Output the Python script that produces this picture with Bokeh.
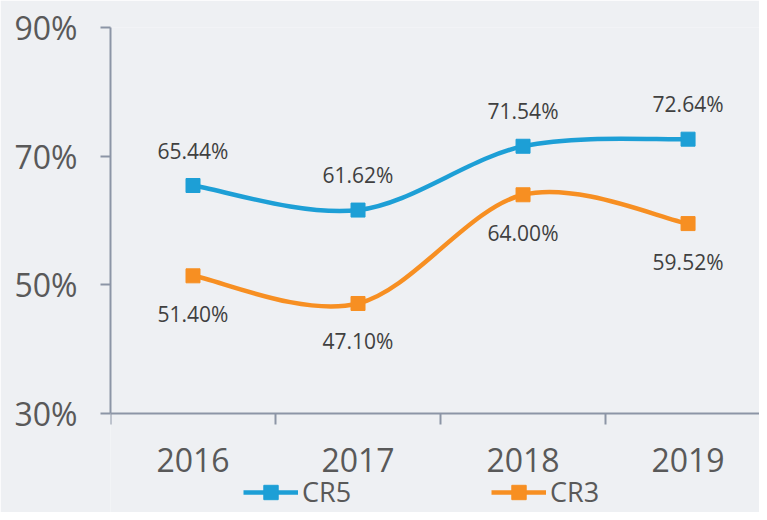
from bokeh.plotting import figure
from bokeh.models import (Range1d, FixedTicker, PrintfTickFormatter, Legend, LegendItem,
                          ColumnDataSource)
from bokeh.core.properties import value
from bokeh.embed import file_html
from bokeh.resources import INLINE

years = ["2016", "2017", "2018", "2019"]
cr5 = [65.44, 61.62, 71.54, 72.64]
cr3 = [51.40, 47.10, 64.00, 59.52]
y_ticks = [30, 50, 70, 90]

BLUE = "#1d9fd6"
ORANGE = "#f78f22"
AXIS = "#8c95a6"
TXT = "#595959"
LBL = "#404040"
BG = "#eef0f3"
FONT = "Open Sans"

xs = list(range(len(years)))
y_lo, y_hi = y_ticks[0], y_ticks[-1]

# frame: top at 27px, value 30 at 413px, figure bottom at 512px
px_per_unit = (413 - 27) / (y_hi - y_lo)
y_start = y_lo - (512 - 413) / px_per_unit

p = figure(width=759, height=512, output_backend="svg", toolbar_location=None,
           x_range=Range1d(-0.5, 3.433), y_range=Range1d(y_start, y_hi),
           min_border_left=110, min_border_right=0, min_border_top=27,
           min_border_bottom=0)
p.background_fill_color = BG
p.border_fill_color = BG
p.outline_line_color = None
p.grid.visible = False

# x axis drawn at the 30% level
xa = p.xaxis[0]
xa.fixed_location = y_lo
xa.ticker = FixedTicker(ticks=xs, minor_ticks=[i - 0.5 for i in xs])
xa.major_label_overrides = {i: y for i, y in zip(xs, years)}
xa.major_tick_out = 0
xa.major_tick_in = 0
xa.minor_tick_out = 11
xa.minor_tick_in = 0
xa.minor_tick_line_color = AXIS
xa.minor_tick_line_width = 2
xa.axis_line_color = AXIS
xa.axis_line_width = 2
xa.major_label_standoff = 23
xa.major_label_text_font = FONT
xa.major_label_text_font_size = "32px"
xa.major_label_text_color = TXT

# y axis
ya = p.yaxis[0]
ya.bounds = (y_lo, y_hi)
ya.ticker = FixedTicker(ticks=y_ticks, minor_ticks=[])
ya.formatter = PrintfTickFormatter(format="%d%%")
ya.major_tick_out = 10
ya.major_tick_in = 0
ya.major_tick_line_color = AXIS
ya.major_tick_line_width = 2
ya.minor_tick_line_color = None
ya.axis_line_color = AXIS
ya.axis_line_width = 2
ya.major_label_standoff = 23
ya.major_label_text_font = FONT
ya.major_label_text_font_size = "32px"
ya.major_label_text_color = TXT


def bezier_source(vals):
    n = len(vals)
    pts = list(zip(xs, vals))
    x0, y0, x1, y1, cx0, cy0, cx1, cy1 = ([] for _ in range(8))
    for i in range(n - 1):
        p0 = pts[i - 1] if i > 0 else pts[i]
        p1 = pts[i]
        p2 = pts[i + 1]
        p3 = pts[i + 2] if i + 2 < n else pts[i + 1]
        x0.append(p1[0]); y0.append(p1[1])
        x1.append(p2[0]); y1.append(p2[1])
        cx0.append(p1[0] + (p2[0] - p0[0]) / 6); cy0.append(p1[1] + (p2[1] - p0[1]) / 6)
        cx1.append(p2[0] - (p3[0] - p1[0]) / 6); cy1.append(p2[1] - (p3[1] - p1[1]) / 6)
    return ColumnDataSource(dict(x0=x0, y0=y0, x1=x1, y1=y1, cx0=cx0, cy0=cy0, cx1=cx1, cy1=cy1))


items = []
for name, vals, color, off in [("CR5", cr5, BLUE, -35), ("CR3", cr3, ORANGE, 38)]:
    b = p.bezier(x0="x0", y0="y0", x1="x1", y1="y1", cx0="cx0", cy0="cy0", cx1="cx1", cy1="cy1",
                 source=bezier_source(vals), line_color=color, line_width=4.5)
    s = p.scatter(xs, vals, marker="square", size=14, fill_color=color, line_color=color)
    p.text(xs, vals, text=[f"{v:.2f}%" for v in vals], y_offset=off,
           text_align="center", text_baseline="middle", text_font=value(FONT),
           text_font_size="21px", text_color=LBL)
    items.append(LegendItem(label=name, renderers=[b, s]))

legend = Legend(items=items, orientation="horizontal", location=(133, 2),
                glyph_width=55, glyph_height=36, label_standoff=4, spacing=113,
                label_width=76, padding=0, margin=0, border_line_color=None,
                background_fill_alpha=0,
                label_text_font=FONT, label_text_font_size="27px", label_text_color=TXT)
p.add_layout(legend, "center")

open("out.html", "w").write(file_html(p, INLINE))
